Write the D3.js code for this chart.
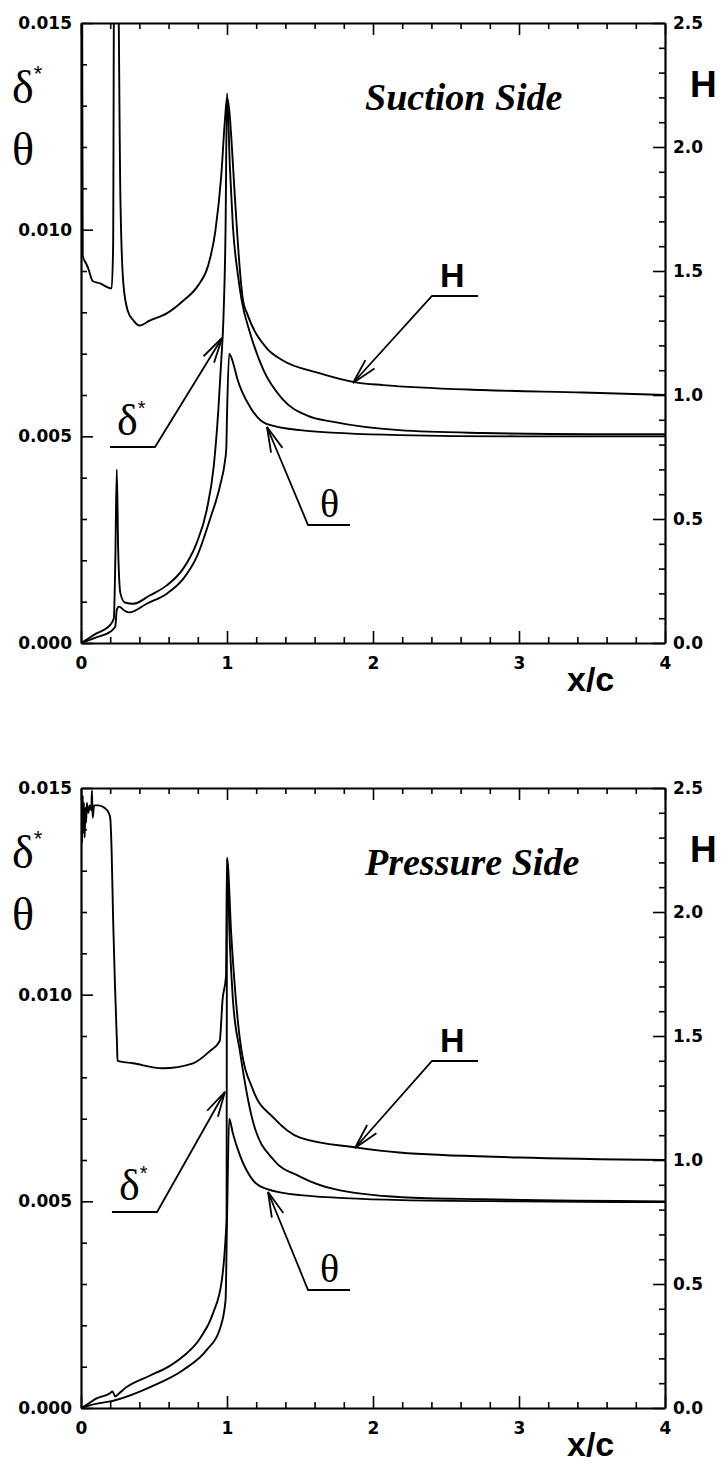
<!DOCTYPE html>
<html>
<head>
<meta charset="utf-8">
<script src="https://cdn.jsdelivr.net/npm/d3@7"></script>
<style>
  body { margin: 0; background: #fff; }
  .tick text { font-family: "DejaVu Sans", "Liberation Sans", Arial, sans-serif; font-weight: bold; font-size: 17px; fill: #000; }
  .curve { fill: none; stroke: #000; stroke-width: 1.9; stroke-linejoin: round; }
  .callout { fill: none; stroke: #000; stroke-width: 1.8; }
</style>
</head>
<body>
<div class="canvas"></div>
<script>
// ---- data ----
// suction side
const sucDeltaX = [0, 0.1, 0.2, 0.225, 0.235, 0.245, 0.255, 0.27, 0.3, 0.36, 0.47, 0.59, 0.7, 0.79, 0.86, 0.91, 0.94, 0.96, 0.975, 0.99, 1.0,
                   1.02, 1.04, 1.075, 1.1, 1.158, 1.25, 1.38, 1.55, 1.73, 2.18, 2.75, 3.5, 4];
const sucDelta  = [0, 0.00022, 0.00044, 0.0006, 0.002, 0.0042, 0.0022, 0.0012, 0.00098, 0.00095, 0.00115, 0.0014, 0.0018, 0.0024, 0.0032, 0.0043, 0.0056, 0.0068, 0.0078, 0.0100, 0.0133,
                   0.0115, 0.0101, 0.0089, 0.0083, 0.0075, 0.0066, 0.0059, 0.0055, 0.00535, 0.00515, 0.00508, 0.00505, 0.00505];
const sucThetaX = [0, 0.1, 0.2, 0.235, 0.245, 0.26, 0.3, 0.33, 0.45, 0.59, 0.7, 0.795, 0.884, 0.952, 0.986, 0.995, 1.0, 1.015,
                   1.04, 1.07, 1.16, 1.27, 1.5, 2.18, 3, 4];
const sucTheta  = [0, 0.00013, 0.00027, 0.0004, 0.0008, 0.00088, 0.00078, 0.00074, 0.00095, 0.0012, 0.00155, 0.0021, 0.003, 0.0038, 0.0044, 0.0047, 0.0055, 0.007,
                   0.0068, 0.0064, 0.0057, 0.0053, 0.00515, 0.00503, 0.005, 0.005];
const sucHX = [0, 0.008, 0.012, 0.035, 0.05, 0.08, 0.13, 0.21, 0.22, 0.228, 0.248, 0.27, 0.29, 0.32, 0.36, 0.4, 0.47, 0.59, 0.7, 0.8, 0.87, 0.92, 0.96, 0.986, 1.0,
               1.055, 1.07, 1.11, 1.137, 1.27, 1.38, 1.62, 1.89, 2.07, 2.75, 3.44, 4];
const sucH  = [4, 2.6, 1.56, 1.53, 1.51, 1.46, 1.45, 1.43, 1.6, 3.0, 3.0, 1.79, 1.45, 1.34, 1.3, 1.28, 1.3, 1.33, 1.38, 1.44, 1.52, 1.66, 1.88, 2.11, 2.2,
               1.79, 1.65, 1.38, 1.33, 1.19, 1.14, 1.09, 1.05, 1.04, 1.02, 1.01, 1.0];

// pressure side
const preDeltaX = [0, 0.05, 0.1, 0.2, 0.215, 0.235, 0.26, 0.31, 0.47, 0.6, 0.7, 0.815, 0.905, 0.965, 0.99, 0.997, 1.0,
                   1.02, 1.04, 1.09, 1.18, 1.32, 1.5, 1.73, 2.2, 2.75, 4];
const preDelta  = [0, 0.0001, 0.00022, 0.00036, 0.0004, 0.00028, 0.00035, 0.0005, 0.00078, 0.001, 0.00125, 0.00168, 0.0023, 0.0031, 0.0041, 0.0046, 0.0133,
                   0.0112, 0.0099, 0.0086, 0.0069, 0.006, 0.0056, 0.0053, 0.0051, 0.00505, 0.005];
const preThetaX = [0, 0.1, 0.2, 0.245, 0.47, 0.7, 0.86, 0.95, 0.99, 1.0, 1.015,
                   1.04, 1.09, 1.18, 1.27, 1.5, 2.2, 3, 4];
const preTheta  = [0, 0.0001, 0.00016, 0.0002, 0.0005, 0.00092, 0.0014, 0.0019, 0.0026, 0.0045, 0.007,
                   0.00665, 0.0061, 0.0055, 0.0053, 0.00515, 0.00503, 0.005, 0.00498];
const preHX = [0, 0.004, 0.008, 0.012, 0.016, 0.02, 0.025, 0.03, 0.035, 0.04, 0.05, 0.06, 0.07, 0.075, 0.08, 0.09, 0.12, 0.16, 0.19, 0.2, 0.21, 0.22, 0.233, 0.247, 0.25,
               0.356, 0.56, 0.767, 0.884, 0.95, 0.97, 0.993, 1.0, 1.03, 1.09, 1.18, 1.32, 1.5, 1.89, 2.18, 3, 4];
const preH  = [2.2, 2.45, 2.28, 2.47, 2.32, 2.44, 2.3, 2.42, 2.36, 2.44, 2.4, 2.43, 2.41, 2.49, 2.38, 2.43, 2.43, 2.42, 2.4, 2.38, 2.24, 1.97, 1.7, 1.46, 1.4,
               1.39, 1.37, 1.39, 1.44, 1.48, 1.65, 1.74, 2.22, 1.9, 1.48, 1.28, 1.17, 1.09, 1.05, 1.03, 1.01, 1.0];

// axis ticks
const xMajor = [0, 1, 2, 3, 4];
const yMajor = [0, 0.005, 0.010, 0.015];
const hMajor = [0, 0.5, 1.0, 1.5, 2.0, 2.5];

// ---- layout ----
const plotLeft = 81, plotWidth = 584, plotHeight = 620;
const panelTops = [23, 788];

const svg = d3.select('.canvas')
  .append('svg')
    .attr('width', 721)
    .attr('height', 1468)
    .style('background', '#fff');

const x = d3.scaleLinear().domain([0, 4]).range([0, plotWidth]);
const y = d3.scaleLinear().domain([0, 0.015]).range([plotHeight, 0]);
const yH = d3.scaleLinear().domain([0, 2.5]).range([plotHeight, 0]);

// smooth lines through the read points
const line = d3.line().x(d => x(d[0])).y(d => d[1]).curve(d3.curveMonotoneX);

// arrow head as an open V at the tip, pointing away from "from"
function arrowHead(tip, from, len, ang) {
  const a = Math.atan2(from[1] - tip[1], from[0] - tip[0]);
  return [[tip[0] + len * Math.cos(a + ang), tip[1] + len * Math.sin(a + ang)], tip,
          [tip[0] + len * Math.cos(a - ang), tip[1] + len * Math.sin(a - ang)]];
}

function drawPanel(p, idx) {
  const g = svg.append('g').attr('transform', `translate(${plotLeft}, ${panelTops[idx]})`);

  g.append('clipPath').attr('id', 'clip' + idx)
    .append('rect').attr('width', plotWidth).attr('height', plotHeight);

  const curves = g.append('g').attr('clip-path', `url(#clip${idx})`);
  const series = [
    d3.zip(p.dx, p.delta.map(v => y(v))),
    d3.zip(p.tx, p.theta.map(v => y(v))),
    d3.zip(p.hx, p.h.map(v => yH(v)))
  ];
  series.forEach(s => curves.append('path').attr('class', 'curve').attr('d', line(s)));

  // major axes
  const bottom = g.append('g').attr('transform', `translate(0, ${plotHeight})`)
    .call(d3.axisBottom(x).tickValues(xMajor).tickFormat(d3.format('d')).tickSize(-12).tickSizeOuter(0).tickPadding(14));
  const top = g.append('g')
    .call(d3.axisTop(x).tickValues(xMajor).tickFormat('').tickSize(-12).tickSizeOuter(0));
  const left = g.append('g')
    .call(d3.axisLeft(y).tickValues(yMajor).tickFormat(d3.format('.3f')).tickSize(-12).tickSizeOuter(0).tickPadding(9));
  const right = g.append('g').attr('transform', `translate(${plotWidth}, 0)`)
    .call(d3.axisRight(yH).tickValues(hMajor).tickFormat(d3.format('.1f')).tickSize(-12).tickSizeOuter(0).tickPadding(8));

  // minor ticks
  const xMinor = d3.range(1, 20).map(i => i * 0.2).filter((d, i) => (i + 1) % 5 !== 0);
  const yMinor = d3.range(1, 15).map(i => i * 0.001).filter((d, i) => (i + 1) % 5 !== 0);
  const hMinor = d3.range(1, 25).map(i => i * 0.1).filter((d, i) => (i + 1) % 5 !== 0);
  const minor = [
    g.append('g').attr('transform', `translate(0, ${plotHeight})`).call(d3.axisBottom(x).tickValues(xMinor).tickFormat('').tickSize(-6)),
    g.append('g').call(d3.axisTop(x).tickValues(xMinor).tickFormat('').tickSize(-6)),
    g.append('g').call(d3.axisLeft(y).tickValues(yMinor).tickFormat('').tickSize(-6)),
    g.append('g').attr('transform', `translate(${plotWidth}, 0)`).call(d3.axisRight(yH).tickValues(hMinor).tickFormat('').tickSize(-6))
  ];
  minor.forEach(m => m.select('.domain').remove());

  [bottom, top, left, right].concat(minor).forEach(a => {
    a.selectAll('.domain').attr('stroke', '#000').attr('stroke-width', 2.2);
    a.selectAll('.tick line').attr('stroke', '#000').attr('stroke-width', 1.6);
  });

  // callouts (positions in data units)
  p.callouts.forEach(c => {
    const tip = [x(c.tip[0]), y(c.tip[1])];
    const corner = [x(c.corner[0]), y(c.corner[1])];
    const end = [x(c.end), y(c.corner[1])];
    g.append('path').attr('class', 'callout')
      .attr('d', d3.line()([end, corner, tip]));
    g.append('path').attr('class', 'callout')
      .attr('d', d3.line()(arrowHead(tip, corner, 26, 0.24)));
    const t = g.append('text')
      .attr('x', x(c.labelAt[0]))
      .attr('y', y(c.labelAt[1]));
    if (c.label === 'H') {
      t.attr('font-family', '"Liberation Sans", Arial, sans-serif').attr('font-weight', 'bold')
        .attr('font-size', 34).text('H');
    } else if (c.label === 'delta') {
      t.attr('font-family', '"Liberation Serif", "Times New Roman", serif').attr('font-size', 44).text('δ');
      t.append('tspan').attr('font-family', '"Liberation Sans", Arial, sans-serif').attr('font-size', 20)
        .attr('dy', -20).text('*');
    } else {
      t.attr('font-family', '"Liberation Serif", "Times New Roman", serif').attr('font-size', 40).text('θ');
    }
  });

  // titles and axis names
  g.append('text')
    .attr('x', 284).attr('y', 87)
    .attr('font-family', '"Liberation Serif", "Times New Roman", serif')
    .attr('font-weight', 'bold').attr('font-style', 'italic')
    .attr('font-size', 38)
    .text(p.title);

  const yName = g.append('text')
    .attr('x', -69).attr('y', 80)
    .attr('font-family', '"Liberation Serif", "Times New Roman", serif')
    .attr('font-size', 46)
    .text('δ');
  yName.append('tspan').attr('font-family', '"Liberation Sans", Arial, sans-serif').attr('font-size', 22)
    .attr('dy', -22).text('*');
  g.append('text')
    .attr('x', -69).attr('y', 142)
    .attr('font-family', '"Liberation Serif", "Times New Roman", serif')
    .attr('font-size', 46)
    .text('θ');

  g.append('text')
    .attr('x', 609).attr('y', 74)
    .attr('font-family', '"Liberation Sans", Arial, sans-serif')
    .attr('font-weight', 'bold').attr('font-size', 37)
    .text('H');

  g.append('text')
    .attr('x', 486).attr('y', 668)
    .attr('font-family', '"Liberation Sans", Arial, sans-serif')
    .attr('font-weight', 'bold').attr('font-size', 34)
    .text('x/c');
}

const panels = [
  {
    title: 'Suction Side', dx: sucDeltaX, delta: sucDelta, tx: sucThetaX, theta: sucTheta, hx: sucHX, h: sucH,
    callouts: [
      { label: 'H', tip: [1.863, 0.00629], corner: [2.404, 0.008395], end: 2.719, labelAt: [2.459, 0.008613] },
      { label: 'delta', tip: [0.966, 0.00738], corner: [0.507, 0.004742], end: 0.199, labelAt: [0.247, 0.005032] },
      { label: 'theta', tip: [1.274, 0.005226], corner: [1.555, 0.002855], end: 1.842, labelAt: [1.637, 0.003048] }
    ]
  },
  {
    title: 'Pressure Side', dx: preDeltaX, delta: preDelta, tx: preThetaX, theta: preTheta, hx: preHX, h: preH,
    callouts: [
      { label: 'H', tip: [1.877, 0.00629], corner: [2.404, 0.008395], end: 2.719, labelAt: [2.459, 0.008613] },
      { label: 'delta', tip: [0.986, 0.00765], corner: [0.521, 0.004742], end: 0.212, labelAt: [0.26, 0.005032] },
      { label: 'theta', tip: [1.281, 0.005226], corner: [1.555, 0.002855], end: 1.842, labelAt: [1.637, 0.003048] }
    ]
  }
];

panels.forEach(drawPanel);
</script>
</body>
</html>
